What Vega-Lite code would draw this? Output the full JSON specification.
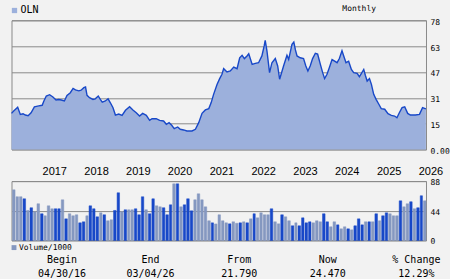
{
  "$schema": "https://vega.github.io/schema/vega-lite/v6.json",
  "background": "#f2f2f2",
  "padding": {"left": 7.5, "top": 4.3, "right": 0, "bottom": 0},
  "spacing": 3,
  "resolve": {"scale": {"x": "independent", "y": "independent", "color": "independent"}, "legend": {"color": "independent"}},
  "config": {
    "view": {"stroke": "#8a8a8a", "strokeWidth": 1},
    "axis": {"labelFont": "DejaVu Sans Mono", "labelFontSize": 8, "labelColor": "#000000", "ticks": false, "domain": false, "gridColor": "#8a8a8a", "gridOpacity": 1, "gridWidth": 1, "title": null},
    "legend": {"padding": 0, "title": null}
  },
  "vconcat": [
    {
      "bounds": "flush",
      "spacing": 30.8,
      "resolve": {"scale": {"x": "independent", "y": "independent", "color": "independent", "stroke": "independent"}, "legend": {"color": "independent"}},
      "vconcat": [
        {
          "width": 414.5,
          "height": 129.2,
          "title": {"text": "Monthly", "frame": "group", "anchor": "end", "dx": -50, "dy": 21.3, "offset": 10, "baseline": "middle", "font": "DejaVu Sans Mono", "fontSize": 8, "fontWeight": "normal", "color": "#000000"},
          "data": {"values": [
            {"d": "2016/05/01", "p": 21.8}, {"d": "2016/05/20", "p": 23.2}, {"d": "2016/06/24", "p": 25.5}, {"d": "2016/07/17", "p": 21.2},
            {"d": "2016/08/10", "p": 21.6}, {"d": "2016/08/30", "p": 20.8}, {"d": "2016/09/23", "p": 20.4}, {"d": "2016/10/19", "p": 22.2},
            {"d": "2016/11/17", "p": 25.7}, {"d": "2016/12/25", "p": 26.3}, {"d": "2017/01/24", "p": 26.7}, {"d": "2017/02/08", "p": 29.3},
            {"d": "2017/03/01", "p": 32.3}, {"d": "2017/03/30", "p": 33.1}, {"d": "2017/04/28", "p": 31.7}, {"d": "2017/05/25", "p": 29.9},
            {"d": "2017/06/17", "p": 30.2}, {"d": "2017/07/10", "p": 29.9}, {"d": "2017/08/06", "p": 29.3}, {"d": "2017/08/29", "p": 32.7},
            {"d": "2017/09/27", "p": 34.3}, {"d": "2017/10/21", "p": 36.9}, {"d": "2017/11/11", "p": 36.0}, {"d": "2017/12/10", "p": 35.4},
            {"d": "2017/12/30", "p": 35.8}, {"d": "2018/01/23", "p": 37.3}, {"d": "2018/02/07", "p": 37.7}, {"d": "2018/02/20", "p": 32.7},
            {"d": "2018/03/14", "p": 31.3}, {"d": "2018/04/13", "p": 30.2}, {"d": "2018/05/03", "p": 30.6}, {"d": "2018/05/29", "p": 32.3},
            {"d": "2018/06/16", "p": 30.2}, {"d": "2018/07/03", "p": 28.6}, {"d": "2018/07/30", "p": 29.3}, {"d": "2018/08/23", "p": 30.6},
            {"d": "2018/09/12", "p": 28.2}, {"d": "2018/10/05", "p": 25.2}, {"d": "2018/10/26", "p": 20.8}, {"d": "2018/11/24", "p": 21.4},
            {"d": "2018/12/23", "p": 20.6}, {"d": "2019/01/22", "p": 23.7}, {"d": "2019/02/27", "p": 25.8}, {"d": "2019/03/28", "p": 23.9},
            {"d": "2019/04/26", "p": 22.2}, {"d": "2019/05/25", "p": 20.2}, {"d": "2019/06/21", "p": 21.8}, {"d": "2019/07/23", "p": 20.6},
            {"d": "2019/08/21", "p": 17.6}, {"d": "2019/09/11", "p": 18.6}, {"d": "2019/10/18", "p": 18.6}, {"d": "2019/11/17", "p": 17.6},
            {"d": "2019/12/21", "p": 17.2}, {"d": "2020/01/14", "p": 15.2}, {"d": "2020/02/07", "p": 16.2}, {"d": "2020/03/01", "p": 14.6},
            {"d": "2020/03/23", "p": 12.6}, {"d": "2020/04/22", "p": 13.6}, {"d": "2020/05/15", "p": 12.2}, {"d": "2020/06/13", "p": 11.8},
            {"d": "2020/07/12", "p": 11.2}, {"d": "2020/08/25", "p": 11.2}, {"d": "2020/09/24", "p": 12.2}, {"d": "2020/10/23", "p": 16.2},
            {"d": "2020/11/21", "p": 21.8}, {"d": "2020/12/20", "p": 23.9}, {"d": "2021/01/19", "p": 24.7}, {"d": "2021/02/09", "p": 28.3},
            {"d": "2021/03/02", "p": 33.3}, {"d": "2021/04/01", "p": 39.3}, {"d": "2021/04/24", "p": 42.8}, {"d": "2021/05/14", "p": 45.4},
            {"d": "2021/05/29", "p": 48.8}, {"d": "2021/06/27", "p": 46.8}, {"d": "2021/07/26", "p": 47.4}, {"d": "2021/08/25", "p": 49.8},
            {"d": "2021/09/23", "p": 48.8}, {"d": "2021/10/16", "p": 55.4}, {"d": "2021/11/06", "p": 56.9}, {"d": "2021/11/26", "p": 54.9},
            {"d": "2021/12/19", "p": 56.5}, {"d": "2022/01/03", "p": 57.8}, {"d": "2022/02/02", "p": 51.4}, {"d": "2022/03/01", "p": 52.0},
            {"d": "2022/03/30", "p": 52.4}, {"d": "2022/04/28", "p": 56.5}, {"d": "2022/05/18", "p": 62.5}, {"d": "2022/05/27", "p": 65.9},
            {"d": "2022/06/11", "p": 59.6}, {"d": "2022/07/04", "p": 46.4}, {"d": "2022/07/25", "p": 52.4}, {"d": "2022/08/23", "p": 54.9},
            {"d": "2022/09/13", "p": 50.4}, {"d": "2022/09/30", "p": 42.4}, {"d": "2022/11/04", "p": 50.6}, {"d": "2022/12/03", "p": 56.9},
            {"d": "2022/12/18", "p": 54.4}, {"d": "2023/01/16", "p": 63.5}, {"d": "2023/02/01", "p": 64.9}, {"d": "2023/02/15", "p": 60.1},
            {"d": "2023/03/01", "p": 56.5}, {"d": "2023/03/29", "p": 55.4}, {"d": "2023/04/27", "p": 54.9}, {"d": "2023/05/17", "p": 50.4},
            {"d": "2023/06/04", "p": 47.4}, {"d": "2023/06/24", "p": 50.4}, {"d": "2023/07/15", "p": 54.9}, {"d": "2023/08/08", "p": 58.1},
            {"d": "2023/08/28", "p": 57.6}, {"d": "2023/09/21", "p": 51.4}, {"d": "2023/10/11", "p": 46.4}, {"d": "2023/10/28", "p": 42.8},
            {"d": "2023/11/18", "p": 45.4}, {"d": "2023/12/08", "p": 49.4}, {"d": "2024/01/01", "p": 54.3}, {"d": "2024/01/24", "p": 53.3},
            {"d": "2024/02/14", "p": 52.4}, {"d": "2024/03/05", "p": 54.9}, {"d": "2024/03/28", "p": 59.6}, {"d": "2024/04/12", "p": 56.5},
            {"d": "2024/05/02", "p": 52.4}, {"d": "2024/05/25", "p": 53.3}, {"d": "2024/06/18", "p": 48.3}, {"d": "2024/07/08", "p": 46.4},
            {"d": "2024/08/07", "p": 46.0}, {"d": "2024/08/27", "p": 44.0}, {"d": "2024/09/14", "p": 46.0}, {"d": "2024/10/04", "p": 48.3},
            {"d": "2024/10/18", "p": 44.8}, {"d": "2024/11/03", "p": 41.3}, {"d": "2024/11/23", "p": 42.8}, {"d": "2024/12/10", "p": 39.3},
            {"d": "2024/12/30", "p": 33.3}, {"d": "2025/01/20", "p": 30.3}, {"d": "2025/02/13", "p": 27.3}, {"d": "2025/03/06", "p": 24.7},
            {"d": "2025/04/05", "p": 24.3}, {"d": "2025/05/04", "p": 21.6}, {"d": "2025/06/02", "p": 20.6}, {"d": "2025/07/01", "p": 20.2},
            {"d": "2025/07/21", "p": 19.2}, {"d": "2025/08/11", "p": 22.2}, {"d": "2025/09/04", "p": 25.3}, {"d": "2025/09/27", "p": 25.8},
            {"d": "2025/10/23", "p": 21.8}, {"d": "2025/11/16", "p": 20.8}, {"d": "2025/12/29", "p": 20.8}, {"d": "2026/02/03", "p": 21.2},
            {"d": "2026/03/02", "p": 25.3}, {"d": "2026/03/31", "p": 24.5}
          ]},
          "encoding": {
            "x": {"field": "d", "type": "temporal",
                  "scale": {"domain": [{"year": 2016, "month": 5, "date": 1}, {"year": 2026, "month": 4, "date": 1}]},
                  "axis": {"orient": "bottom", "format": "%Y", "tickCount": {"interval": "year", "step": 1}, "grid": false,
                           "labelAlign": "left", "labelOffset": 2.5, "labelPadding": 16.5, "labelBaseline": "top",
                           "labelFont": "Liberation Sans", "labelFontSize": 11, "labelFlush": false, "labelOverlap": false}},
            "y": {"field": "p", "type": "quantitative",
                  "scale": {"domain": [0, 78], "nice": false},
                  "axis": {"orient": "right", "values": [0, 15.6, 31.2, 46.8, 62.4, 78],
                           "labelExpr": "datum.value == 0 ? '0.00' : datum.value == 15.6 ? '15' : datum.value == 31.2 ? '31' : datum.value == 46.8 ? '47' : datum.value == 62.4 ? '63' : '78'",
                           "labelPadding": 4, "labelOffset": 2, "labelBaseline": "middle", "grid": true}}
          },
          "layer": [
            {"mark": {"type": "area"},
             "encoding": {"color": {"datum": "OLN", "scale": {"range": ["#9cb0dc"]},
                "legend": {"orient": "none", "legendX": -2, "legendY": -14.8, "symbolType": "square", "symbolSize": 28,
                           "symbolStrokeWidth": 0, "labelFont": "DejaVu Sans Mono", "labelFontSize": 10, "labelColor": "#000000", "labelOffset": 1,
                           "encode": {"symbols": {"update": {"fill": {"value": "#1848c8"}, "opacity": {"value": 1}}}}}}}},
            {"mark": {"type": "line", "color": "#1848c8", "strokeWidth": 1.4}}
          ]
        },
        {
          "width": 414.5,
          "height": 59.4,
          "data": {"values": [
            {"m": "2016/05/01", "v": 75.1, "t": "light"}, {"m": "2016/06/01", "v": 64.8, "t": "light"}, {"m": "2016/07/01", "v": 64.8, "t": "light"},
            {"m": "2016/08/01", "v": 61.8, "t": "dark"}, {"m": "2016/09/01", "v": 44.5, "t": "light"}, {"m": "2016/10/01", "v": 48.5, "t": "dark"},
            {"m": "2016/11/01", "v": 42.5, "t": "light"}, {"m": "2016/12/01", "v": 54.4, "t": "light"}, {"m": "2017/01/01", "v": 39.6, "t": "dark"},
            {"m": "2017/02/01", "v": 36.6, "t": "light"}, {"m": "2017/03/01", "v": 51.4, "t": "light"}, {"m": "2017/04/01", "v": 47.0, "t": "light"},
            {"m": "2017/05/01", "v": 47.0, "t": "dark"}, {"m": "2017/06/01", "v": 47.0, "t": "dark"}, {"m": "2017/07/01", "v": 60.3, "t": "light"},
            {"m": "2017/08/01", "v": 32.1, "t": "dark"}, {"m": "2017/09/01", "v": 39.6, "t": "light"}, {"m": "2017/10/01", "v": 36.6, "t": "light"},
            {"m": "2017/11/01", "v": 38.1, "t": "light"}, {"m": "2017/12/01", "v": 26.2, "t": "dark"}, {"m": "2018/01/01", "v": 27.7, "t": "dark"},
            {"m": "2018/02/01", "v": 36.6, "t": "light"}, {"m": "2018/03/01", "v": 51.4, "t": "dark"}, {"m": "2018/04/01", "v": 47.0, "t": "dark"},
            {"m": "2018/05/01", "v": 35.1, "t": "dark"}, {"m": "2018/06/01", "v": 41.0, "t": "light"}, {"m": "2018/07/01", "v": 38.1, "t": "dark"},
            {"m": "2018/08/01", "v": 29.2, "t": "light"}, {"m": "2018/09/01", "v": 30.7, "t": "light"}, {"m": "2018/10/01", "v": 44.5, "t": "dark"},
            {"m": "2018/11/01", "v": 70.7, "t": "dark"}, {"m": "2018/12/01", "v": 42.5, "t": "light"}, {"m": "2019/01/01", "v": 45.5, "t": "dark"},
            {"m": "2019/02/01", "v": 45.5, "t": "light"}, {"m": "2019/03/01", "v": 45.5, "t": "light"}, {"m": "2019/04/01", "v": 47.0, "t": "dark"},
            {"m": "2019/05/01", "v": 38.1, "t": "dark"}, {"m": "2019/06/01", "v": 64.8, "t": "dark"}, {"m": "2019/07/01", "v": 45.5, "t": "light"},
            {"m": "2019/08/01", "v": 39.6, "t": "dark"}, {"m": "2019/09/01", "v": 61.8, "t": "dark"}, {"m": "2019/10/01", "v": 51.4, "t": "light"},
            {"m": "2019/11/01", "v": 49.9, "t": "light"}, {"m": "2019/12/01", "v": 48.5, "t": "dark"}, {"m": "2020/01/01", "v": 38.1, "t": "dark"},
            {"m": "2020/02/01", "v": 52.9, "t": "dark"}, {"m": "2020/03/01", "v": 84.0, "t": "light"}, {"m": "2020/04/01", "v": 84.0, "t": "dark"},
            {"m": "2020/05/01", "v": 49.9, "t": "light"}, {"m": "2020/06/01", "v": 52.9, "t": "dark"}, {"m": "2020/07/01", "v": 61.8, "t": "dark"},
            {"m": "2020/08/01", "v": 44.0, "t": "dark"}, {"m": "2020/09/01", "v": 60.3, "t": "light"}, {"m": "2020/10/01", "v": 69.2, "t": "light"},
            {"m": "2020/11/01", "v": 60.3, "t": "light"}, {"m": "2020/12/01", "v": 49.9, "t": "light"}, {"m": "2021/01/01", "v": 29.2, "t": "light"},
            {"m": "2021/02/01", "v": 26.2, "t": "dark"}, {"m": "2021/03/01", "v": 24.5, "t": "light"}, {"m": "2021/04/01", "v": 38.1, "t": "light"},
            {"m": "2021/05/01", "v": 29.2, "t": "light"}, {"m": "2021/06/01", "v": 26.2, "t": "light"}, {"m": "2021/07/01", "v": 24.7, "t": "dark"},
            {"m": "2021/08/01", "v": 27.7, "t": "light"}, {"m": "2021/09/01", "v": 25.5, "t": "light"}, {"m": "2021/10/01", "v": 26.2, "t": "dark"},
            {"m": "2021/11/01", "v": 27.7, "t": "light"}, {"m": "2021/12/01", "v": 26.2, "t": "dark"}, {"m": "2022/01/01", "v": 32.1, "t": "light"},
            {"m": "2022/02/01", "v": 39.6, "t": "dark"}, {"m": "2022/03/01", "v": 33.6, "t": "light"}, {"m": "2022/04/01", "v": 41.0, "t": "light"},
            {"m": "2022/05/01", "v": 38.1, "t": "light"}, {"m": "2022/06/01", "v": 38.1, "t": "light"}, {"m": "2022/07/01", "v": 47.0, "t": "dark"},
            {"m": "2022/08/01", "v": 27.7, "t": "light"}, {"m": "2022/09/01", "v": 24.7, "t": "light"}, {"m": "2022/10/01", "v": 38.1, "t": "dark"},
            {"m": "2022/11/01", "v": 35.1, "t": "light"}, {"m": "2022/12/01", "v": 29.2, "t": "light"}, {"m": "2023/01/01", "v": 21.8, "t": "dark"},
            {"m": "2023/02/01", "v": 26.2, "t": "light"}, {"m": "2023/03/01", "v": 21.8, "t": "dark"}, {"m": "2023/04/01", "v": 33.6, "t": "dark"},
            {"m": "2023/05/01", "v": 26.2, "t": "dark"}, {"m": "2023/06/01", "v": 27.7, "t": "dark"}, {"m": "2023/07/01", "v": 26.2, "t": "light"},
            {"m": "2023/08/01", "v": 29.2, "t": "light"}, {"m": "2023/09/01", "v": 27.7, "t": "light"}, {"m": "2023/10/01", "v": 39.6, "t": "dark"},
            {"m": "2023/11/01", "v": 27.7, "t": "dark"}, {"m": "2023/12/01", "v": 20.3, "t": "light"}, {"m": "2024/01/01", "v": 27.7, "t": "light"},
            {"m": "2024/02/01", "v": 23.2, "t": "dark"}, {"m": "2024/03/01", "v": 17.3, "t": "light"}, {"m": "2024/04/01", "v": 20.3, "t": "light"},
            {"m": "2024/05/01", "v": 17.3, "t": "dark"}, {"m": "2024/06/01", "v": 15.8, "t": "light"}, {"m": "2024/07/01", "v": 21.8, "t": "dark"},
            {"m": "2024/08/01", "v": 32.1, "t": "dark"}, {"m": "2024/09/01", "v": 23.2, "t": "dark"}, {"m": "2024/10/01", "v": 27.7, "t": "light"},
            {"m": "2024/11/01", "v": 27.7, "t": "dark"}, {"m": "2024/12/01", "v": 27.7, "t": "light"}, {"m": "2025/01/01", "v": 39.6, "t": "dark"},
            {"m": "2025/02/01", "v": 29.2, "t": "light"}, {"m": "2025/03/01", "v": 36.6, "t": "dark"}, {"m": "2025/04/01", "v": 41.0, "t": "dark"},
            {"m": "2025/05/01", "v": 39.6, "t": "light"}, {"m": "2025/06/01", "v": 36.6, "t": "light"}, {"m": "2025/07/01", "v": 36.6, "t": "light"},
            {"m": "2025/08/01", "v": 58.8, "t": "dark"}, {"m": "2025/09/01", "v": 49.9, "t": "light"}, {"m": "2025/10/01", "v": 54.4, "t": "light"},
            {"m": "2025/11/01", "v": 57.4, "t": "dark"}, {"m": "2025/12/01", "v": 47.0, "t": "light"}, {"m": "2026/01/01", "v": 48.5, "t": "dark"},
            {"m": "2026/02/01", "v": 66.3, "t": "dark"}, {"m": "2026/03/01", "v": 58.8, "t": "light"}
          ]},
          "mark": {"type": "bar", "strokeWidth": 0.5},
          "encoding": {
            "x": {"field": "m", "type": "temporal", "timeUnit": "yearmonth",
                  "scale": {"domain": [{"year": 2016, "month": 5, "date": 1}, {"year": 2026, "month": 4, "date": 1}]}, "axis": null},
            "y": {"field": "v", "type": "quantitative", "scale": {"domain": [0, 88], "nice": false},
                  "axis": {"orient": "right", "values": [0, 44, 88], "labelPadding": 4, "labelOffset": 1.5, "labelBaseline": "middle", "grid": true}},
            "color": {"field": "t", "type": "nominal", "scale": {"domain": ["dark", "light"], "range": ["#1848c8", "#8598c0"]},
                      "legend": {"orient": "none", "legendX": -1.5, "legendY": 62.5, "values": ["light"], "labelExpr": "'Volume/1000'",
                                 "symbolType": "square", "symbolSize": 24, "symbolStrokeWidth": 0, "labelFont": "DejaVu Sans Mono", "labelFontSize": 8,
                                 "labelColor": "#000000", "labelOffset": 1}},
            "stroke": {"field": "t", "type": "nominal", "scale": {"domain": ["dark", "light"], "range": ["#1848c8", "#8598c0"]}, "legend": null}
          }
        }
      ]
    },
    {
      "width": 414.5,
      "height": 14,
      "view": {"stroke": null},
      "data": {"values": [
        {"c": "Begin", "r": "h", "s": "Begin"}, {"c": "Begin", "r": "v", "s": "04/30/16"},
        {"c": "End", "r": "h", "s": "End"}, {"c": "End", "r": "v", "s": "03/04/26"},
        {"c": "From", "r": "h", "s": "From"}, {"c": "From", "r": "v", "s": "21.790"},
        {"c": "Now", "r": "h", "s": "Now"}, {"c": "Now", "r": "v", "s": "24.470"},
        {"c": "% Change", "r": "h", "s": "% Change"}, {"c": "% Change", "r": "v", "s": "12.29%"}
      ]},
      "mark": {"type": "text", "font": "DejaVu Sans Mono", "fontSize": 10, "color": "#000000", "baseline": "middle"},
      "encoding": {
        "x": {"field": "c", "type": "nominal", "sort": ["Begin", "End", "From", "Now", "% Change"],
              "scale": {"type": "point", "padding": 0.339, "align": 0.84}, "axis": null},
        "y": {"field": "r", "type": "nominal", "sort": ["h", "v"], "scale": {"type": "point", "padding": 0}, "axis": null},
        "text": {"field": "s"}
      }
    }
  ]
}
